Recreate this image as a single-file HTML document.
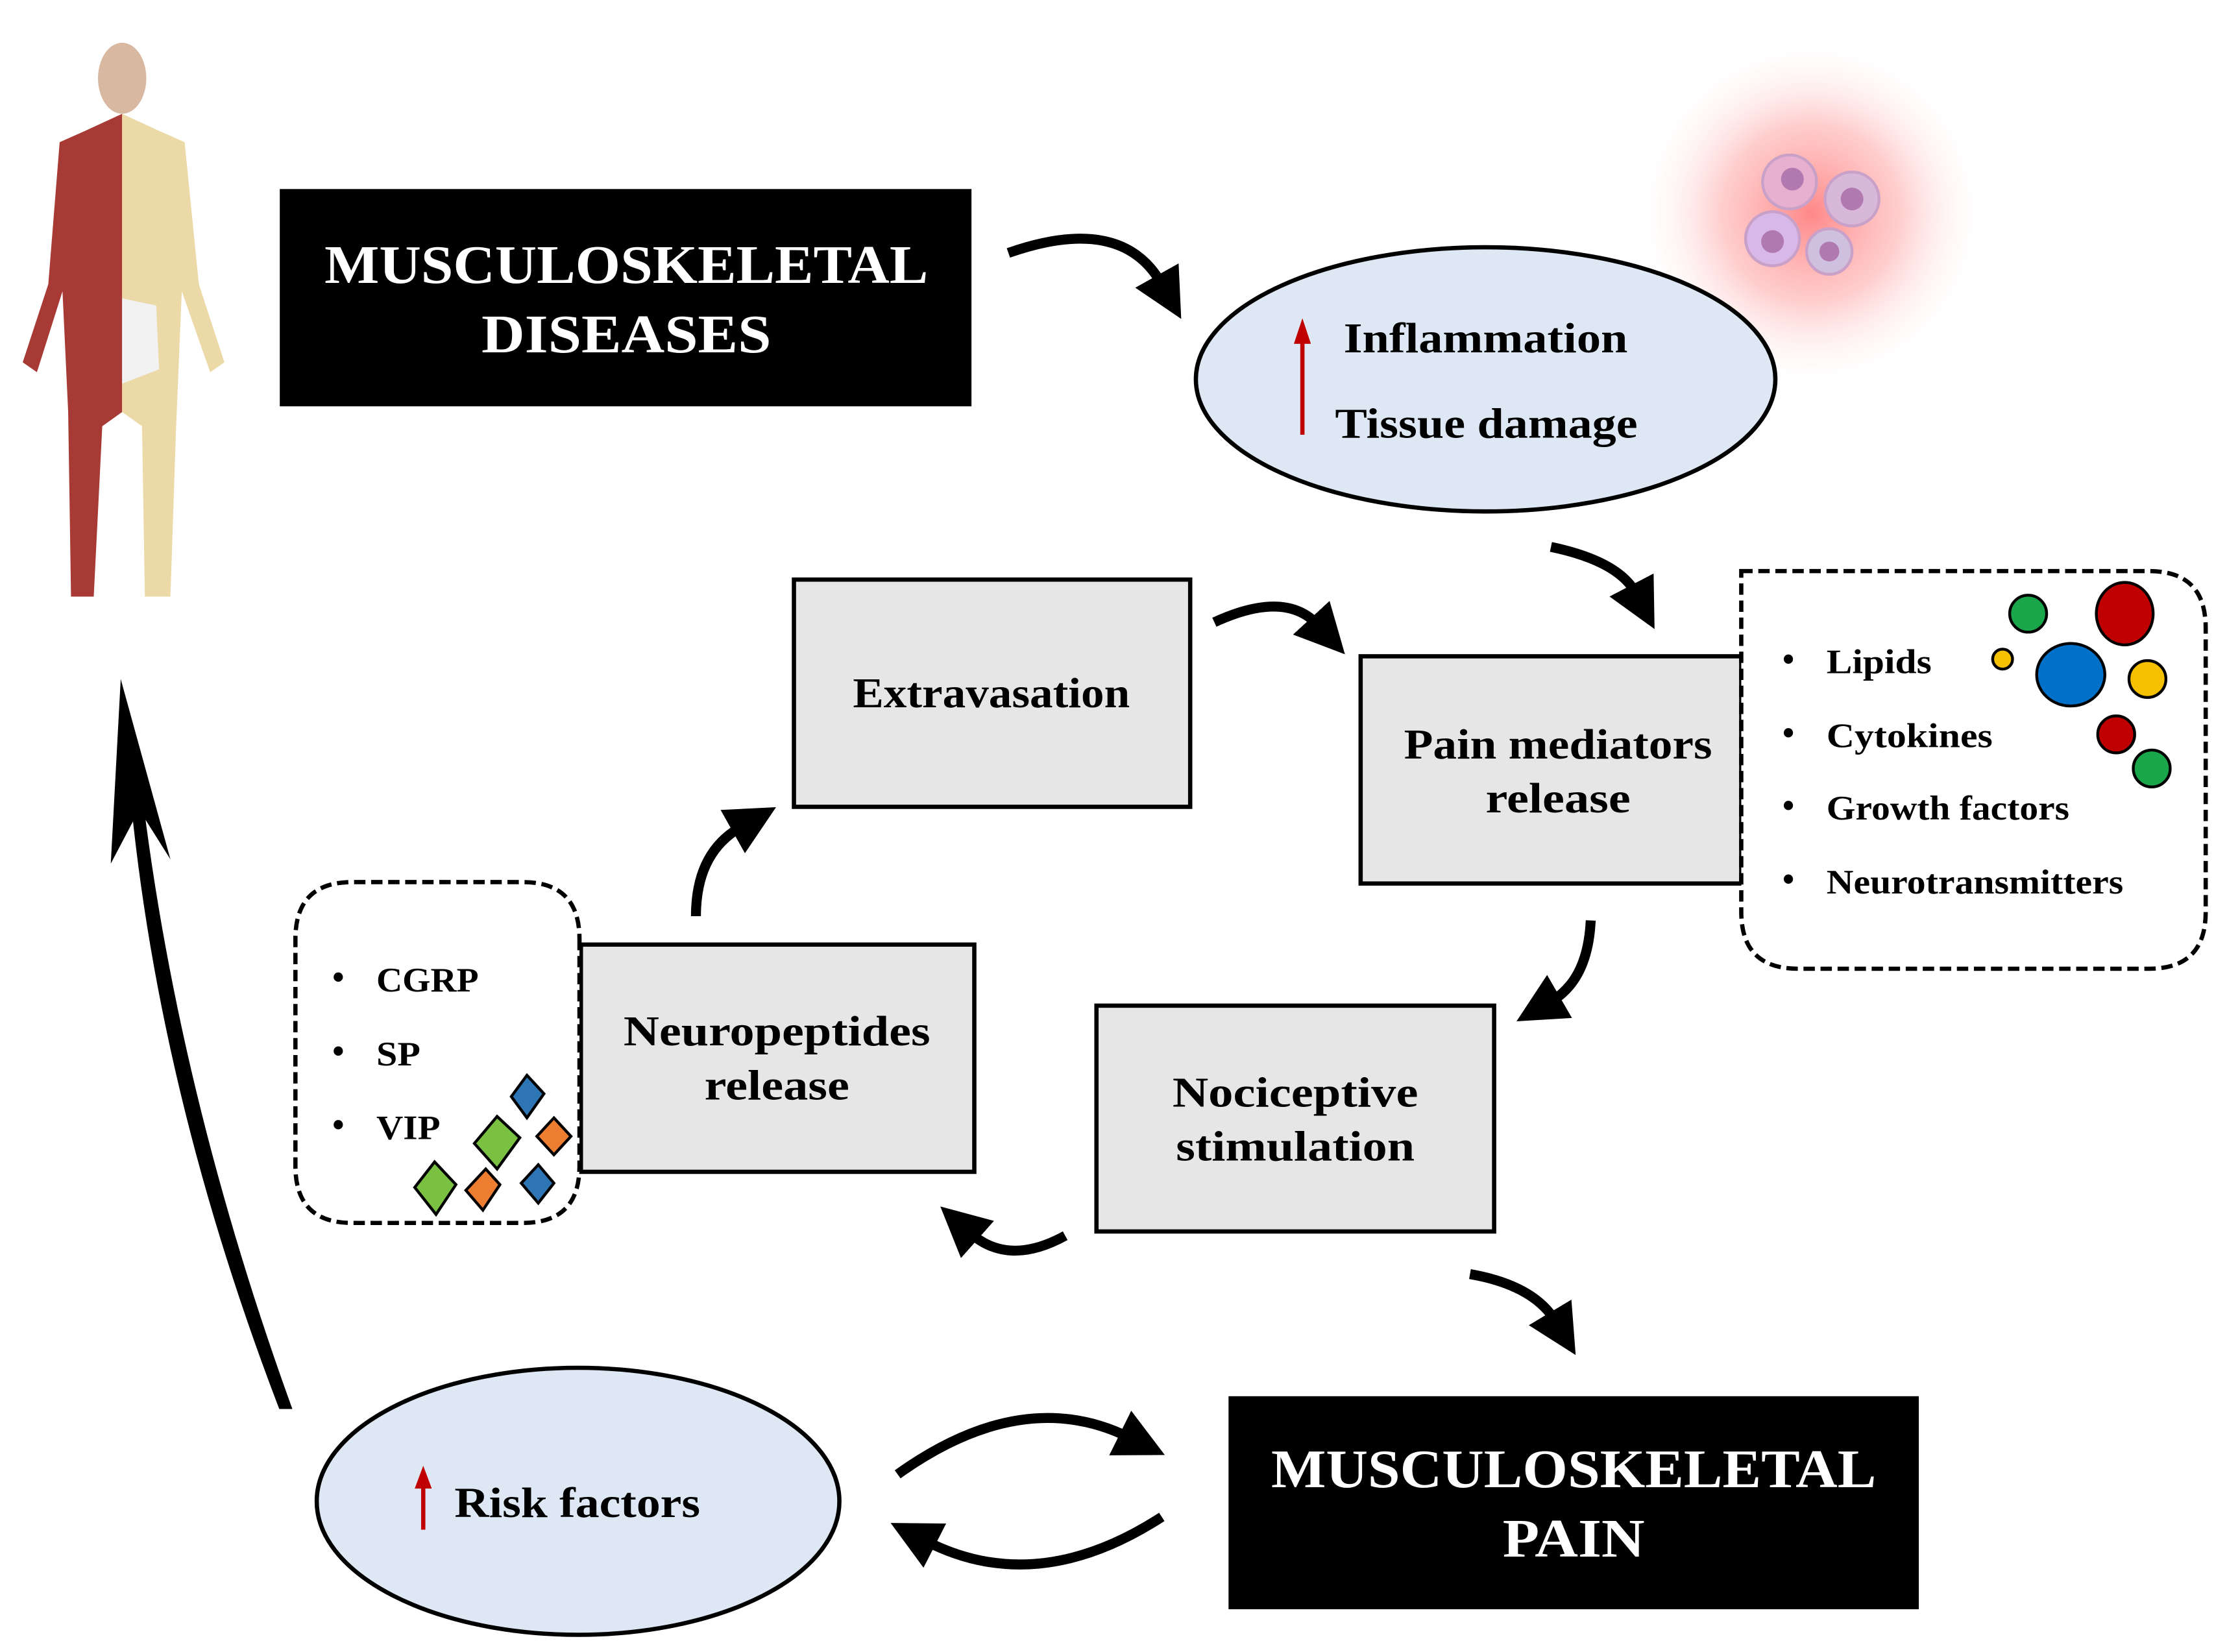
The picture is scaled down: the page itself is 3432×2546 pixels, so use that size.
<!DOCTYPE html>
<html><head><meta charset="utf-8"><style>html,body{margin:0;padding:0;background:#fff}svg{display:block}</style></head>
<body>
<svg width="3432" height="2546" viewBox="0 0 1568 1163" xmlns="http://www.w3.org/2000/svg" font-family="'Liberation Serif', serif">
<defs>
<radialGradient id="glow" cx="50%" cy="50%" r="50%">
<stop offset="0" stop-color="#ff6060" stop-opacity="0.75"/>
<stop offset="0.5" stop-color="#ff9090" stop-opacity="0.45"/>
<stop offset="1" stop-color="#ffffff" stop-opacity="0"/>
</radialGradient>
<marker id="ah" markerWidth="5" markerHeight="5" refX="1" refY="2.5" orient="auto" markerUnits="strokeWidth">
<path d="M0,0 L5,2.5 L0,5 z" fill="#000"/>
</marker>
</defs>
<rect width="1568" height="1163" fill="#fff"/>

<!-- glow + cells -->
<rect x="1150" y="25" width="250" height="250" fill="url(#glow)"/>
<g stroke="#c8a0c8" stroke-width="2">
<circle cx="1260" cy="128" r="19" fill="#e8b0d0"/>
<circle cx="1304" cy="140" r="19" fill="#d8b8d8"/>
<circle cx="1248" cy="168" r="19" fill="#d8b8e8"/>
<circle cx="1288" cy="177" r="16" fill="#d0c0e0"/>
</g>
<g fill="#b07ab0"><circle cx="1262" cy="126" r="8"/><circle cx="1304" cy="140" r="8"/><circle cx="1248" cy="170" r="8"/><circle cx="1288" cy="177" r="7"/></g>

<!-- human figure -->
<g>
<ellipse cx="86" cy="55" rx="17" ry="25" fill="#d8b8a0"/>
<path d="M86,80 L60,92 L42,100 L34,200 L16,255 L26,262 L44,205 L48,290 L50,420 L66,420 L72,300 L86,290 Z" fill="#a83a35"/>
<path d="M86,80 L112,92 L130,100 L140,200 L158,255 L148,262 L128,205 L124,300 L120,420 L102,420 L100,300 L86,290 Z" fill="#ecd9a8"/>
<path d="M86,210 L110,215 L112,260 L86,270 Z" fill="#f2f2f2"/>
</g>

<!-- black boxes -->
<rect x="197" y="133" width="487" height="153" fill="#000"/>
<text x="441" y="199" font-size="38" fill="#fff" text-anchor="middle" font-weight="bold" textLength="425" lengthAdjust="spacingAndGlyphs">MUSCULOSKELETAL</text>
<text x="441" y="248" font-size="38" fill="#fff" text-anchor="middle" font-weight="bold" textLength="204" lengthAdjust="spacingAndGlyphs">DISEASES</text>

<rect x="865" y="983" width="486" height="150" fill="#000"/>
<text x="1108" y="1047" font-size="38" fill="#fff" text-anchor="middle" font-weight="bold" textLength="426" lengthAdjust="spacingAndGlyphs">MUSCULOSKELETAL</text>
<text x="1108" y="1096" font-size="38" fill="#fff" text-anchor="middle" font-weight="bold" textLength="100" lengthAdjust="spacingAndGlyphs">PAIN</text>

<!-- ellipses -->
<ellipse cx="1046" cy="267" rx="204" ry="93" fill="#dde8f4" stroke="#000" stroke-width="3"/>
<line x1="917" y1="306" x2="917" y2="238" stroke="#c00000" stroke-width="3"/>
<path d="M911,242 L917,224 L923,242 Z" fill="#c00000"/>
<text x="946" y="248" font-size="30" font-weight="bold" textLength="200" lengthAdjust="spacingAndGlyphs">Inflammation</text>
<text x="940" y="308" font-size="30" font-weight="bold" textLength="213" lengthAdjust="spacingAndGlyphs">Tissue damage</text>

<ellipse cx="407" cy="1057" rx="184" ry="94" fill="#dde8f4" stroke="#000" stroke-width="3"/>
<line x1="298" y1="1077" x2="298" y2="1044" stroke="#c00000" stroke-width="3"/>
<path d="M292,1048 L298,1032 L304,1048 Z" fill="#c00000"/>
<text x="320" y="1068" font-size="30" font-weight="bold" textLength="173" lengthAdjust="spacingAndGlyphs">Risk factors</text>

<!-- grey boxes -->
<g fill="#e6e6e6" stroke="#000" stroke-width="3">
<rect x="559" y="408" width="279" height="160"/>
<rect x="958" y="462" width="268" height="160"/>
<rect x="409" y="665" width="277" height="160"/>
<rect x="772" y="708" width="280" height="159"/>
</g>
<g font-size="30" font-weight="bold" text-anchor="middle">
<text x="698" y="498" textLength="195" lengthAdjust="spacingAndGlyphs">Extravasation</text>
<text x="1097" y="534" textLength="217" lengthAdjust="spacingAndGlyphs">Pain mediators</text>
<text x="1097" y="572" textLength="102" lengthAdjust="spacingAndGlyphs">release</text>
<text x="547" y="736" textLength="216" lengthAdjust="spacingAndGlyphs">Neuropeptides</text>
<text x="547" y="774" textLength="102" lengthAdjust="spacingAndGlyphs">release</text>
<text x="912" y="779" textLength="173" lengthAdjust="spacingAndGlyphs">Nociceptive</text>
<text x="912" y="817" textLength="168" lengthAdjust="spacingAndGlyphs">stimulation</text>
</g>

<!-- dashed boxes -->
<path d="M1226,402 L1513,402 Q1553,402 1553,442 L1553,642 Q1553,682 1513,682 L1266,682 Q1226,682 1226,642 Z" fill="#fff" stroke="#000" stroke-width="3" stroke-dasharray="8,4"/>
<path d="M408,661 L408,821 Q408,861 368,861 L248,861 Q208,861 208,821 L208,661 Q208,621 248,621 L368,621 Q408,621 408,661" fill="#fff" stroke="#000" stroke-width="3" stroke-dasharray="8,4"/>

<g font-size="24" font-weight="bold">
<text x="1255" y="472">•</text><text x="1286" y="474" textLength="74" lengthAdjust="spacingAndGlyphs">Lipids</text>
<text x="1255" y="524">•</text><text x="1286" y="526" textLength="117" lengthAdjust="spacingAndGlyphs">Cytokines</text>
<text x="1255" y="575">•</text><text x="1286" y="577" textLength="171" lengthAdjust="spacingAndGlyphs">Growth factors</text>
<text x="1255" y="627">•</text><text x="1286" y="629" textLength="209" lengthAdjust="spacingAndGlyphs">Neurotransmitters</text>
<text x="234" y="696">•</text><text x="265" y="698" textLength="72" lengthAdjust="spacingAndGlyphs">CGRP</text>
<text x="234" y="748">•</text><text x="265" y="750" textLength="31" lengthAdjust="spacingAndGlyphs">SP</text>
<text x="234" y="800">•</text><text x="265" y="802" textLength="45" lengthAdjust="spacingAndGlyphs">VIP</text>
</g>

<g stroke="#000" stroke-width="2">
<circle cx="1428" cy="432" r="13" fill="#1aa64a"/>
<ellipse cx="1496" cy="432" rx="20" ry="22" fill="#c00000"/>
<circle cx="1410" cy="464" r="7" fill="#f5c000"/>
<ellipse cx="1458" cy="475" rx="24" ry="22" fill="#0070c8"/>
<circle cx="1512" cy="478" r="13" fill="#f5c000"/>
<circle cx="1490" cy="517" r="13" fill="#c00000"/>
<circle cx="1515" cy="541" r="13" fill="#1aa64a"/>
<polygon points="371,757 383,770 371,787 360,772" fill="#2e75b6"/>
<polygon points="350,786 366,801 350,823 334,805" fill="#7ac142"/>
<polygon points="390,787 402,800 390,813 378,800" fill="#ed7d31"/>
<polygon points="306,818 321,834 307,855 292,836" fill="#7ac142"/>
<polygon points="342,823 352,834 340,852 328,838" fill="#ed7d31"/>
<polygon points="379,820 390,833 379,847 367,833" fill="#2e75b6"/>
</g>

<!-- curved arrows -->
<g fill="none" stroke="#000" stroke-width="7" marker-end="url(#ah)">
<path d="M710,178 Q790,150 818,200"/>
<path d="M1092,385 Q1140,395 1152,418"/>
<path d="M855,438 Q905,415 928,440"/>
<path d="M1120,648 Q1118,690 1092,705"/>
<path d="M750,870 Q710,892 683,868"/>
<path d="M1035,897 Q1080,905 1095,930"/>
<path d="M490,645 Q490,600 522,582"/>
<path d="M632,1038 Q720,975 795,1012"/>
<path d="M818,1068 Q730,1125 652,1085"/>
</g>

<!-- big upward arrow -->
<path d="M203,990 Q120,760 96,540 L92,540 Q110,760 198,990 Z" fill="#000" stroke="#000" stroke-width="4"/>
<path d="M85,478 L120,605 L98,570 L78,608 Z" fill="#000"/>
</svg>
</body></html>
